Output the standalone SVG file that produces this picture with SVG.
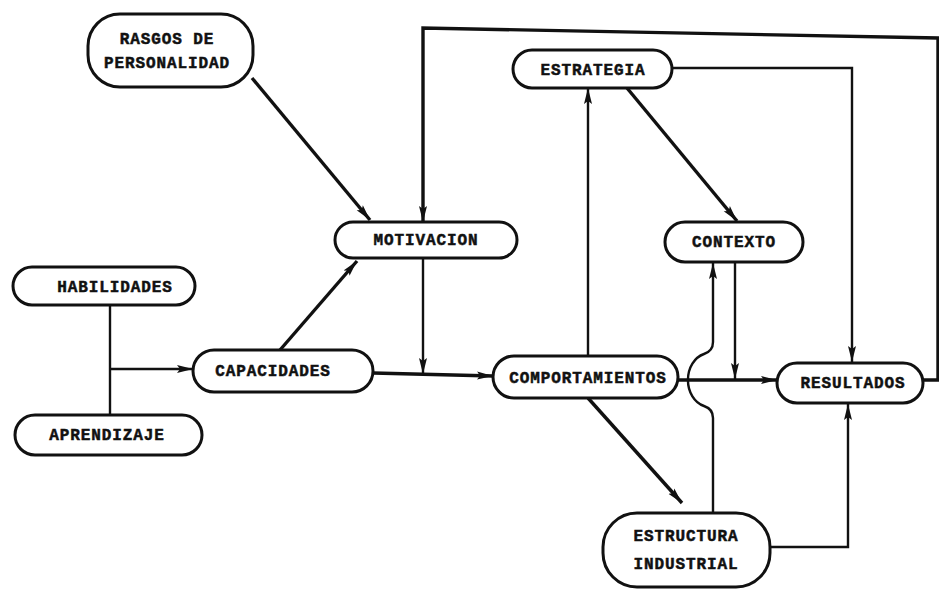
<svg xmlns="http://www.w3.org/2000/svg" width="939" height="592" viewBox="0 0 939 592">
<style>
.box{fill:#fff;stroke:#111;stroke-width:3}
.t{font-family:"Liberation Mono","Courier New",monospace;font-weight:bold;font-size:16px;letter-spacing:0.9px;fill:#111;stroke:#111;stroke-width:0.5;text-anchor:middle}
.c{fill:none;stroke:#111;stroke-width:2.4}
.k{fill:none;stroke:#111;stroke-width:3.4}
</style>
<defs>
<marker id="ah" markerUnits="userSpaceOnUse" markerWidth="18" markerHeight="10" refX="16" refY="5" orient="auto">
<path d="M0,1 L16,5 L0,9 L3,5 Z" fill="#111"/>
</marker>
</defs>
<rect width="939" height="592" fill="#fff"/>
<g id="connectors">
<path class="k" d="M252,78 L370,220" marker-end="url(#ah)"/>
<path class="k" d="M280,350 L357,261" marker-end="url(#ah)"/>
<path class="c" d="M110,305 V415"/>
<path class="c" d="M110,369 H193" marker-end="url(#ah)"/>
<path class="c" d="M423,258 V374" marker-end="url(#ah)"/>
<path class="k" d="M373,373 L493,376" marker-end="url(#ah)"/>
<path class="k" d="M923,380 H938 V38 L423,28 V222" marker-end="url(#ah)"/>
<path class="c" d="M588,355 V88" marker-end="url(#ah)"/>
<path class="k" d="M627,88 L737,221" marker-end="url(#ah)"/>
<path class="c" d="M672,68 H852 V362" marker-end="url(#ah)"/>
<path class="c" d="M735,262 V379" marker-end="url(#ah)"/>
<path class="c" d="M713,513 V418 Q713,409 704,406 A22,27 0 0 1 704,354 Q713,351 713,342 V263" marker-end="url(#ah)"/>
<path class="k" d="M678,380 H777" marker-end="url(#ah)"/>
<path class="k" d="M588,398 L682,503" marker-end="url(#ah)"/>
<path class="c" d="M770,547 H848 V404" marker-end="url(#ah)"/>
</g>
<g id="rasgos">
<rect class="box" x="88" y="14" width="165" height="73" rx="32"/>
<text class="t" x="167" y="44">RASGOS DE</text>
<text class="t" x="167" y="68">PERSONALIDAD</text>
</g>
<g id="motivacion">
<rect class="box" x="335" y="222" width="182" height="36" rx="18"/>
<text class="t" x="426" y="245">MOTIVACION</text>
</g>
<g id="habilidades">
<rect class="box" x="13" y="267" width="182" height="38" rx="19"/>
<text class="t" x="115" y="292">HABILIDADES</text>
</g>
<g id="aprendizaje">
<rect class="box" x="15" y="415" width="187" height="40" rx="20"/>
<text class="t" x="107" y="440">APRENDIZAJE</text>
</g>
<g id="capacidades">
<rect class="box" x="193" y="350" width="180" height="42" rx="21"/>
<text class="t" x="273" y="376">CAPACIDADES</text>
</g>
<g id="comportamientos">
<rect class="box" x="493" y="356" width="185" height="42" rx="21"/>
<text class="t" x="588" y="383">COMPORTAMIENTOS</text>
</g>
<g id="estrategia">
<rect class="box" x="513" y="50" width="159" height="38" rx="19"/>
<text class="t" x="593" y="75">ESTRATEGIA</text>
</g>
<g id="contexto">
<rect class="box" x="665" y="222" width="138" height="40" rx="20"/>
<text class="t" x="734" y="247">CONTEXTO</text>
</g>
<g id="resultados">
<rect class="box" x="777" y="363" width="146" height="40" rx="20"/>
<text class="t" x="853" y="388">RESULTADOS</text>
</g>
<g id="estructura">
<rect class="box" x="603" y="513" width="167" height="74" rx="34"/>
<text class="t" x="686" y="541">ESTRUCTURA</text>
<text class="t" x="686" y="569">INDUSTRIAL</text>
</g>
</svg>
